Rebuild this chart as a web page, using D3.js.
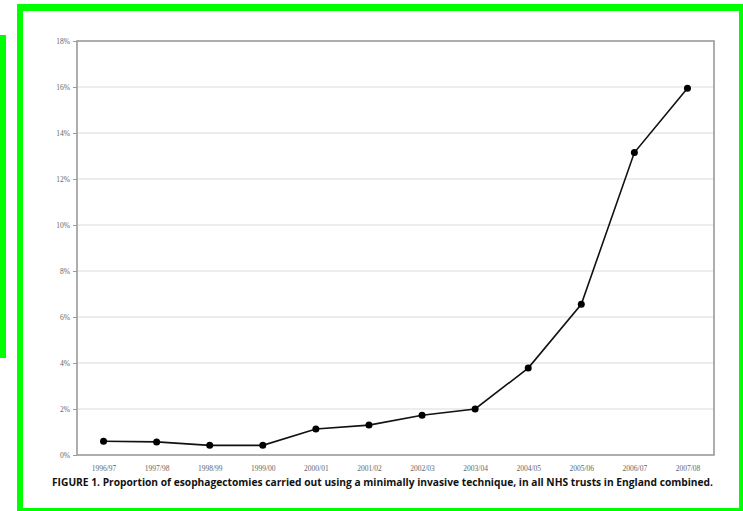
<!DOCTYPE html>
<html>
<head>
<meta charset="utf-8">
<script src="https://cdn.jsdelivr.net/npm/d3@7"></script>
<style>
  html, body { margin: 0; padding: 0; background: #fff; }
  svg { display: block; }
</style>
</head>
<body>
<svg id="chart" width="743" height="511"></svg>
<script>
// Financial years and share of oesophagectomies done minimally invasively (%)
const years = ["1996/97", "1997/98", "1998/99", "1999/00", "2000/01", "2001/02",
               "2002/03", "2003/04", "2004/05", "2005/06", "2006/07", "2007/08"];
const percentMIO = [0.6, 0.57, 0.42, 0.42, 1.13, 1.3, 1.73, 2.0, 3.78, 6.55, 13.15, 15.95];
const yTicks = [0, 2, 4, 6, 8, 10, 12, 14, 16, 18];
const caption = "FIGURE 1. Proportion of esophagectomies carried out using a minimally invasive technique, in all NHS trusts in England combined.";

const svg = d3.select("#chart");
const plot = { left: 77, right: 714, top: 41, bottom: 455 };

// Green frame around the figure
const green = "#00ff00";
svg.append("rect").attr("x", 0).attr("y", 35).attr("width", 6).attr("height", 323).attr("fill", green);
svg.append("rect").attr("x", 17).attr("y", 4).attr("width", 726).attr("height", 7).attr("fill", green);
svg.append("rect").attr("x", 17).attr("y", 4).attr("width", 6).attr("height", 507).attr("fill", green);
svg.append("rect").attr("x", 739).attr("y", 4).attr("width", 4).attr("height", 507).attr("fill", green);
svg.append("rect").attr("x", 17).attr("y", 508).attr("width", 726).attr("height", 3).attr("fill", green);

const x = d3.scalePoint().domain(years).range([plot.left, plot.right]).padding(0.5);
const y = d3.scaleLinear().domain([0, 18]).range([plot.bottom, plot.top]);

// Horizontal gridlines
svg.append("g")
  .selectAll("line")
  .data(yTicks.filter(t => t > 0 && t < 18))
  .join("line")
  .attr("x1", plot.left).attr("x2", plot.right)
  .attr("y1", d => y(d)).attr("y2", d => y(d))
  .attr("stroke", "#dcdcdc").attr("stroke-width", 1.2);

// Plot frame
svg.append("rect")
  .attr("x", plot.left).attr("y", plot.top)
  .attr("width", plot.right - plot.left).attr("height", plot.bottom - plot.top)
  .attr("fill", "none").attr("stroke", "#9a9a9a").attr("stroke-width", 1.6);

// Y axis
const yAxis = svg.append("g")
  .attr("transform", `translate(${plot.left},0)`)
  .call(d3.axisLeft(y).tickValues(yTicks).tickFormat(d => d + "%").tickSize(4).tickPadding(3));
yAxis.select(".domain").remove();
yAxis.selectAll(".tick line").attr("stroke", "#9a9a9a");
yAxis.selectAll("text")
  .attr("font-family", "Liberation Serif, serif").attr("font-size", 7.5).attr("fill", "#666");

// X axis
const xAxis = svg.append("g")
  .attr("transform", `translate(0,${plot.bottom})`)
  .call(d3.axisBottom(x).tickSize(0).tickPadding(11));
xAxis.select(".domain").remove();
xAxis.selectAll("text")
  .attr("font-family", "Liberation Serif, serif").attr("font-size", 7.5).attr("fill", "#666");

// Series line and markers
const line = d3.line().x((d, i) => x(years[i])).y(d => y(d));
svg.append("path")
  .datum(percentMIO)
  .attr("d", line)
  .attr("fill", "none").attr("stroke", "#111").attr("stroke-width", 1.6);

svg.append("g")
  .selectAll("circle")
  .data(percentMIO)
  .join("circle")
  .attr("cx", (d, i) => x(years[i]))
  .attr("cy", d => y(d))
  .attr("r", 3.5)
  .attr("fill", "#000");

// Caption
svg.append("text")
  .attr("x", 52).attr("y", 486)
  .attr("font-family", "Open Sans, sans-serif")
  .attr("font-weight", "bold")
  .attr("font-size", 10.5)
  .attr("fill", "#111")
  .attr("textLength", 661)
  .attr("lengthAdjust", "spacingAndGlyphs")
  .text(caption);
</script>
</body>
</html>
